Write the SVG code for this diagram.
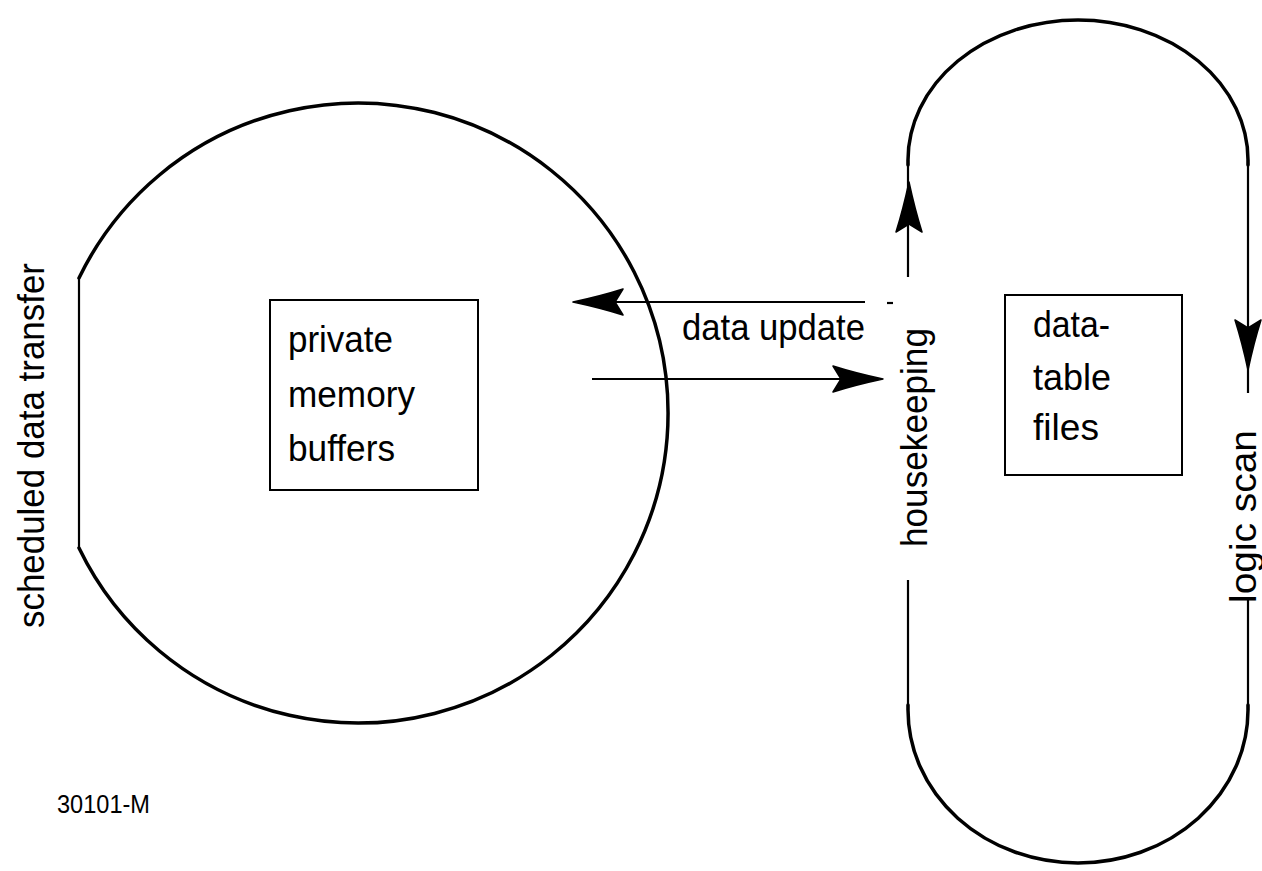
<svg xmlns="http://www.w3.org/2000/svg" width="1262" height="871" viewBox="0 0 1262 871">
<style>
.t{font-family:"Liberation Sans",Arial,sans-serif;font-size:36px;fill:#000}
.s{font-family:"Liberation Sans",Arial,sans-serif;font-size:25px;fill:#000}
.thick{fill:none;stroke:#000;stroke-width:3.5;stroke-linecap:round}
.thin{fill:none;stroke:#000;stroke-width:2.2}
.box{fill:none;stroke:#000;stroke-width:2}
.ah{fill:#000;stroke:#000;stroke-width:1.5;stroke-linejoin:round}
</style>
<defs>
<path id="arrow" d="M0,0 Q-28,-6 -50,-13 L-42,0 L-50,13 Q-28,6 0,0 Z"/>
</defs>
<g id="circle-node">
<path class="thick" d="M79,278 A310,310 0 1,1 79,548"/>
<line class="thin" x1="79" y1="278" x2="79" y2="548"/>
<text class="t" transform="translate(44,628) rotate(-90)" textLength="365" lengthAdjust="spacingAndGlyphs">scheduled data transfer</text>
</g>
<g id="private-memory-buffers">
<rect class="box" x="270" y="300" width="208" height="190"/>
<text class="t" x="288" y="352" textLength="105" lengthAdjust="spacingAndGlyphs">private</text>
<text class="t" x="288" y="407" textLength="127" lengthAdjust="spacingAndGlyphs">memory</text>
<text class="t" x="288" y="461" textLength="107" lengthAdjust="spacingAndGlyphs">buffers</text>
</g>
<g id="scan-loop">
<path class="thick" d="M908,165 L908,160 A170,140 0 0,1 1248,160 L1248,165"/>
<path class="thick" d="M908,705 L908,710 A170,153 0 0,0 1248,710 L1248,705"/>
<line class="thin" x1="908" y1="160" x2="908" y2="277"/>
<line class="thin" x1="908" y1="580" x2="908" y2="710"/>
<line class="thin" x1="1248" y1="160" x2="1248" y2="393"/>
<line class="thin" x1="1248" y1="600" x2="1248" y2="710"/>
<use href="#arrow" class="ah" transform="translate(909,182) rotate(-90)"/>
<use href="#arrow" class="ah" transform="translate(1248,370) rotate(90)"/>
<text class="t" transform="translate(927,547) rotate(-90)" textLength="219" lengthAdjust="spacingAndGlyphs">housekeeping</text>
<text class="t" transform="translate(1256,603) rotate(-90)" textLength="173" lengthAdjust="spacingAndGlyphs">logic scan</text>
</g>
<g id="data-table-files">
<rect class="box" x="1005" y="295" width="177" height="180"/>
<text class="t" x="1033" y="337" textLength="77" lengthAdjust="spacingAndGlyphs">data-</text>
<text class="t" x="1033" y="390" textLength="78" lengthAdjust="spacingAndGlyphs">table</text>
<text class="t" x="1033" y="440" textLength="66" lengthAdjust="spacingAndGlyphs">files</text>
</g>
<g id="connectors">
<line class="thin" x1="865" y1="302" x2="590" y2="302"/>
<use href="#arrow" class="ah" transform="translate(573,302) rotate(180)"/>
<line class="thin" x1="887" y1="303" x2="893" y2="303"/>
<line class="thin" x1="592" y1="379" x2="860" y2="379"/>
<use href="#arrow" class="ah" transform="translate(883,379)"/>
<text class="t" x="682" y="340" textLength="183" lengthAdjust="spacingAndGlyphs">data update</text>
</g>
<text class="s" x="57" y="813" textLength="93" lengthAdjust="spacingAndGlyphs">30101-M</text>
</svg>
